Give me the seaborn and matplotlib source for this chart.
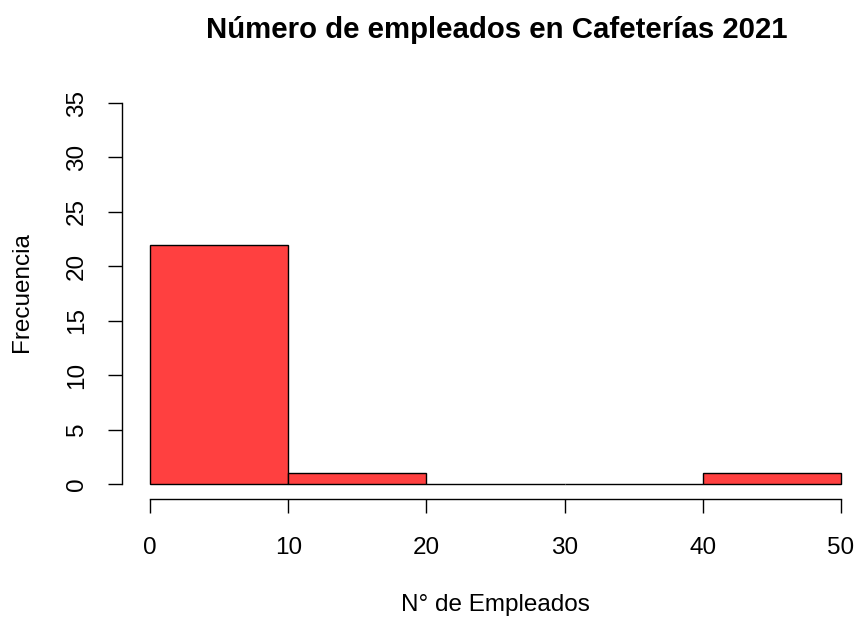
import matplotlib
matplotlib.use("Agg")
import matplotlib.pyplot as plt
import seaborn as sns
import pandas as pd

# Data
bin_edges = [0, 10, 20, 30, 40, 50]
bin_centers = [5, 15, 25, 35, 45]
frequencies = [22, 1, 0, 0, 1]
x_ticks = [0, 10, 20, 30, 40, 50]
y_ticks = [0, 5, 10, 15, 20, 25, 30, 35]

title = "Número de empleados en Cafeterías 2021"
xlabel = "N° de Empleados"
ylabel = "Frecuencia"

df = pd.DataFrame({"empleados": bin_centers, "freq": frequencies})

sns.set_style("white")
plt.rcParams["font.family"] = ["Liberation Sans", "DejaVu Sans"]
plt.rcParams["text.color"] = "black"

W, H = 856, 617
fig = plt.figure(figsize=(W / 100, H / 100), dpi=100)

# axes placement in pixels
px_per_x = (841 - 150) / 50.0
left_px = 150 - 2 * px_per_x
right_px = W
top_px, bottom_px = 87.8, 499.2
ax = fig.add_axes([left_px / W, 1 - bottom_px / H,
                   (right_px - left_px) / W, (bottom_px - top_px) / H])

sns.histplot(data=df, x="empleados", weights="freq", bins=bin_edges,
             color="#FF4040", edgecolor="black", linewidth=1.0, alpha=1,
             ax=ax)

ax.set_xlim(-2, (right_px - 150) / px_per_x)
ax.set_ylim(-1.4, 36.4)

for s in ["top", "right"]:
    ax.spines[s].set_visible(False)
ax.spines["left"].set_bounds(0, 35)
ax.spines["bottom"].set_bounds(0, 50)
for s in ["left", "bottom"]:
    ax.spines[s].set_color("black")
    ax.spines[s].set_linewidth(1.0)

ax.set_xticks(x_ticks)
ax.set_yticks(y_ticks)
ax.set_xticklabels([str(v) for v in x_ticks])
ax.set_yticklabels([str(v) for v in y_ticks], rotation=90, va="center")
ax.tick_params(axis="both", direction="out", length=10, width=1.0,
               color="black", labelsize=17.5, labelcolor="black",
               left=True, bottom=True)
ax.tick_params(axis="x", pad=17)
ax.tick_params(axis="y", pad=15)
ax.set_xlabel("")
ax.set_ylabel("")
ax.grid(False)

fig.text(497 / W, 1 - 30 / H, title, ha="center", va="center",
         fontsize=21.2, fontweight="bold", color="black")
fig.text(495 / W, 1 - 605 / H, xlabel, ha="center", va="center",
         fontsize=17.5, color="black")
fig.text(22 / W, 1 - 292 / H, ylabel, ha="center", va="center",
         fontsize=17.5, rotation=90, color="black")

fig.savefig("out.png", dpi=100)
